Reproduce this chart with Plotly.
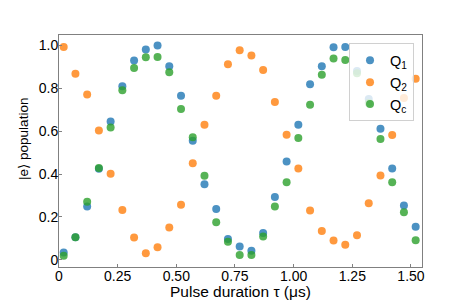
import plotly.graph_objects as go

# Pulse duration (µs)
tau = [0.02, 0.07, 0.12, 0.17, 0.22, 0.27, 0.32, 0.37, 0.42, 0.47, 0.52,
       0.57, 0.62, 0.67, 0.72, 0.77, 0.82, 0.87, 0.92, 0.97, 1.02, 1.07,
       1.12, 1.17, 1.22, 1.27, 1.32, 1.37, 1.42, 1.47, 1.52]

q1 = [0.034, 0.106, 0.249, 0.425, 0.645, 0.809, 0.929, 0.980, 0.999, 0.902, 0.765,
      0.555, 0.353, 0.237, 0.097, 0.062, 0.043, 0.125, 0.293, 0.459, 0.630, 0.818,
      0.902, 0.991, 0.992, 0.880, 0.750, 0.611, 0.426, 0.253, 0.154]

q2 = [0.992, 0.868, 0.771, 0.603, 0.401, 0.233, 0.104, 0.031, 0.059, 0.151, 0.257,
      0.451, 0.630, 0.765, 0.912, 0.977, 0.952, 0.885, 0.736, 0.583, 0.426, 0.230,
      0.135, 0.090, 0.071, 0.115, 0.264, 0.393, 0.582, 0.755, 0.844]

qc = [0.019, 0.106, 0.271, 0.428, 0.617, 0.790, 0.894, 0.944, 0.946, 0.874, 0.703,
      0.571, 0.392, 0.176, 0.085, 0.023, 0.023, 0.109, 0.249, 0.362, 0.568, 0.723,
      0.863, 0.939, 0.932, 0.870, 0.731, 0.563, 0.362, 0.222, 0.092]

series_names = ["Q<sub>1</sub>", "Q<sub>2</sub>", "Q<sub>c</sub>"]
series_colors = ["#1f77b4", "#ff7f0e", "#2ca02c"]

x_tickvals = [0, 0.25, 0.5, 0.75, 1.0, 1.25, 1.5]
x_ticktext = ["0", "0.25", "0.50", "0.75", "1.00", "1.25", "1.50"]
y_tickvals = [0, 0.2, 0.4, 0.6, 0.8, 1.0]
y_ticktext = ["0", "0.2", "0.4", "0.6", "0.8", "1.0"]

x_title = "Pulse duration τ (μs)"
y_title = "|e⟩ population"

font_family = "Liberation Sans, Arial, DejaVu Sans, sans-serif"

fig = go.Figure()
for name, ys, col in zip(series_names, [q1, q2, qc], series_colors):
    fig.add_trace(go.Scatter(
        x=tau, y=ys, mode="markers", name=name,
        marker=dict(size=8, color=col, opacity=0.8, line=dict(width=0)),
    ))

axis_common = dict(
    showline=True, mirror=True, linecolor="#808080", linewidth=1,
    ticks="inside", ticklen=3, tickcolor="#808080",
    showgrid=False, zeroline=False, automargin=False,
    tickfont=dict(size=14, color="black", family=font_family),
)

fig.update_layout(
    width=461, height=293,
    margin=dict(l=51, r=47, t=27, b=34),
    paper_bgcolor="white", plot_bgcolor="white",
    font=dict(family=font_family, color="black", size=15),
    xaxis=dict(range=[0, 1.547], tickvals=x_tickvals, ticktext=x_ticktext,
               ticklabelstandoff=-4, **axis_common),
    yaxis=dict(range=[-0.033, 1.048], tickvals=y_tickvals, ticktext=y_ticktext,
               ticklabelstandoff=-3, **axis_common),
    legend=dict(
        x=0.978, y=0.964, xanchor="right", yanchor="top",
        bgcolor="rgba(255,255,255,0.8)", bordercolor="#d0d0d0", borderwidth=1,
        font=dict(size=14.5, family=font_family),
        tracegroupgap=0,
    ),
    showlegend=True,
    annotations=[
        dict(text=x_title, xref="paper", yref="paper", x=0.5, y=-0.106,
             xanchor="center", yanchor="middle", showarrow=False,
             font=dict(size=15.5, family=font_family, color="black")),
        dict(text=y_title, xref="paper", yref="paper", x=-0.0964, y=0.552,
             xanchor="center", yanchor="middle", showarrow=False, textangle=-90,
             font=dict(size=13.5, family=font_family, color="black")),
    ],
)

fig.write_html("out.html")
